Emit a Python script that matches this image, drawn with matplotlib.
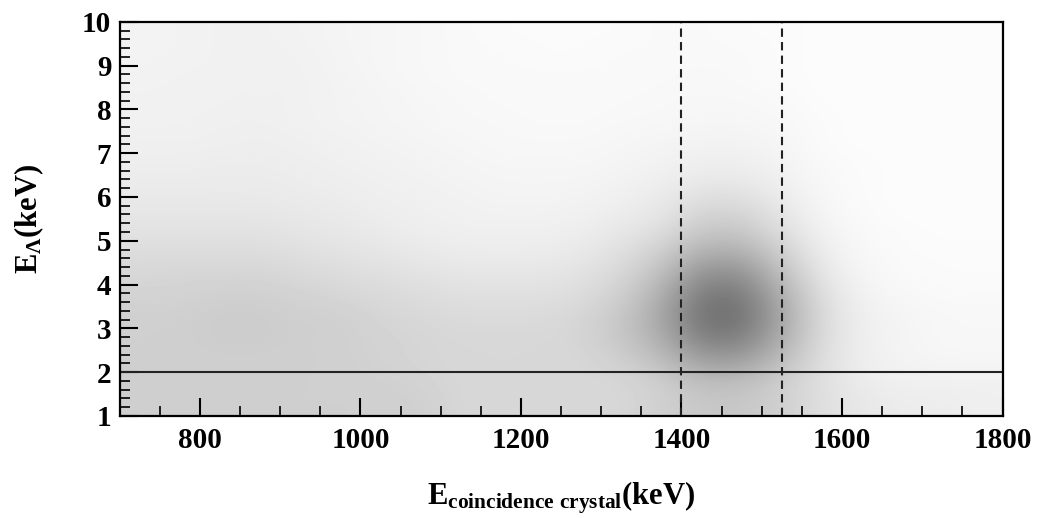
import numpy as np
import matplotlib
matplotlib.use("Agg")
import matplotlib.pyplot as plt

# density (relative counts), bins of 50 keV in x and 0.5 keV in y
X_EDGES = [700, 1800]
Y_EDGES = [1, 10]
# rows from y=1.0-1.5 (bottom) up to 9.5-10.0 (top); columns 700..1800 in 50 keV steps
density = [
    [3.0, 3.0, 3.0, 3.0, 3.0, 3.0, 3.0, 3.0, 2.5, 2.5, 2.5, 2.5, 2.5, 3.0, 3.5, 3.5, 3.0, 2.0, 1.5, 1.2, 1.2, 1.0],
    [3.0, 3.0, 3.0, 3.0, 3.0, 3.0, 3.0, 2.8, 2.5, 2.5, 2.5, 2.5, 2.5, 3.0, 4.0, 4.0, 3.0, 2.0, 1.2, 1.0, 1.0, 1.0],
    [3.0, 3.0, 3.0, 3.0, 3.0, 3.0, 2.8, 2.6, 2.5, 2.5, 2.5, 2.5, 3.0, 4.0, 6.0, 6.0, 4.0, 2.0, 1.0, 0.8, 0.6, 0.6],
    [3.0, 3.0, 3.2, 3.2, 3.0, 3.0, 2.8, 2.6, 2.5, 2.5, 2.5, 2.6, 3.5, 5.0, 8.0, 8.0, 5.0, 2.2, 1.0, 0.7, 0.5, 0.5],
    [3.0, 3.0, 3.2, 3.2, 3.0, 3.0, 2.6, 2.5, 2.3, 2.3, 2.3, 2.6, 3.5, 5.5, 9.0, 9.0, 5.5, 2.2, 1.0, 0.7, 0.5, 0.5],
    [2.8, 2.8, 3.0, 3.0, 2.8, 2.6, 2.4, 2.2, 2.0, 2.0, 2.0, 2.2, 3.0, 5.0, 8.5, 8.5, 5.0, 2.0, 0.8, 0.5, 0.4, 0.4],
    [2.5, 2.6, 2.6, 2.6, 2.4, 2.2, 2.0, 1.8, 1.6, 1.6, 1.6, 1.8, 2.5, 4.0, 7.0, 7.0, 4.0, 1.5, 0.6, 0.4, 0.3, 0.3],
    [2.2, 2.2, 2.2, 2.2, 2.0, 1.8, 1.6, 1.4, 1.2, 1.2, 1.2, 1.4, 2.0, 3.0, 5.0, 5.0, 3.0, 1.1, 0.5, 0.3, 0.3, 0.3],
    [1.8, 1.8, 1.8, 1.8, 1.6, 1.5, 1.3, 1.1, 1.0, 1.0, 1.0, 1.1, 1.5, 2.0, 3.5, 3.5, 2.0, 0.8, 0.4, 0.3, 0.2, 0.2],
    [1.5, 1.5, 1.5, 1.5, 1.4, 1.3, 1.1, 1.0, 0.9, 0.8, 0.8, 0.9, 1.1, 1.5, 2.5, 2.5, 1.5, 0.6, 0.3, 0.2, 0.2, 0.2],
    [1.3, 1.3, 1.3, 1.3, 1.2, 1.1, 1.0, 0.9, 0.8, 0.7, 0.7, 0.7, 0.9, 1.1, 1.6, 1.6, 1.0, 0.5, 0.3, 0.2, 0.2, 0.2],
    [1.1, 1.1, 1.2, 1.2, 1.1, 1.0, 0.9, 0.8, 0.7, 0.6, 0.6, 0.6, 0.7, 0.9, 1.1, 1.1, 0.8, 0.4, 0.3, 0.2, 0.2, 0.2],
    [1.0, 1.0, 1.0, 1.1, 1.0, 0.9, 0.8, 0.7, 0.6, 0.5, 0.5, 0.5, 0.6, 0.7, 0.8, 0.8, 0.6, 0.3, 0.2, 0.2, 0.2, 0.2],
    [0.9, 0.9, 1.0, 1.0, 0.9, 0.8, 0.7, 0.6, 0.5, 0.5, 0.4, 0.4, 0.5, 0.5, 0.6, 0.6, 0.5, 0.3, 0.2, 0.2, 0.2, 0.2],
    [0.9, 0.9, 0.9, 1.0, 0.9, 0.8, 0.7, 0.6, 0.5, 0.4, 0.4, 0.4, 0.4, 0.5, 0.5, 0.5, 0.4, 0.2, 0.2, 0.2, 0.2, 0.2],
    [0.8, 0.9, 0.9, 0.9, 0.9, 0.8, 0.6, 0.5, 0.4, 0.4, 0.4, 0.4, 0.4, 0.4, 0.5, 0.4, 0.3, 0.2, 0.2, 0.2, 0.2, 0.2],
    [0.8, 0.8, 0.9, 0.9, 0.9, 0.7, 0.6, 0.5, 0.4, 0.4, 0.3, 0.3, 0.4, 0.4, 0.4, 0.4, 0.3, 0.2, 0.2, 0.2, 0.2, 0.2],
    [0.8, 0.8, 0.9, 0.9, 0.8, 0.7, 0.6, 0.5, 0.4, 0.3, 0.3, 0.3, 0.3, 0.4, 0.4, 0.3, 0.3, 0.2, 0.2, 0.2, 0.2, 0.2],
]

window_lo = 1400
window_hi = 1525
ea_cut = 2

x_ticks = [800, 1000, 1200, 1400, 1600, 1800]
y_ticks = [1, 2, 3, 4, 5, 6, 7, 8, 9, 10]

plt.rcParams['font.family'] = ['Liberation Serif', 'DejaVu Serif']
plt.rcParams['font.weight'] = 'bold'
plt.rcParams['mathtext.fontset'] = 'custom'
plt.rcParams['mathtext.rm'] = 'Liberation Serif:bold'
plt.rcParams['mathtext.it'] = 'Liberation Serif:bold'
plt.rcParams['mathtext.bf'] = 'Liberation Serif:bold'

fig = plt.figure(figsize=(10.4, 5.18), dpi=100)
ax = fig.add_axes([0.115, 0.197, 0.849, 0.761])

ax.imshow(np.array(density), origin='lower', aspect='auto', cmap='gray_r',
          vmin=0, vmax=16, interpolation='bicubic',
          extent=[X_EDGES[0], X_EDGES[1], Y_EDGES[0], Y_EDGES[1]])

ax.axvline(window_lo, color='#222222', lw=1.5, ls=(0, (4, 2.5)))
ax.axvline(window_hi, color='#222222', lw=1.5, ls=(0, (4, 2.5)))
ax.axhline(ea_cut, color='#222222', lw=1.5)

ax.set_xlim(700, 1800)
ax.set_ylim(1, 10)
ax.set_xticks(x_ticks)
ax.set_yticks(y_ticks)
ax.set_xticks(np.arange(750, 1800, 50), minor=True)
ax.set_yticks(np.arange(1, 10, 0.2), minor=True)
ax.tick_params(which='major', direction='in', length=13, width=1.5, labelsize=21, pad=8)
ax.tick_params(which='minor', direction='in', length=7, width=1.2)
ax.tick_params(axis='y', pad=6)
for s in ax.spines.values():
    s.set_linewidth(1.6)

ax.set_xlabel(r'$\mathrm{E_{coincidence\ crystal}(keV)}$', fontsize=22, labelpad=18)
ax.set_ylabel(r'$\mathrm{E_{\Lambda}(keV)}$', fontsize=22, labelpad=26)

fig.savefig('out.png', dpi=100)
